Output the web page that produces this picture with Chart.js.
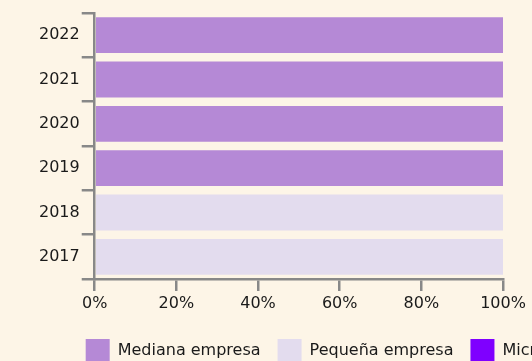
<!DOCTYPE html>
<html>
<head>
<meta charset="utf-8">
<script src="https://cdn.jsdelivr.net/npm/chart.js@4"></script>
<style>
  html, body { margin: 0; padding: 0; background: #fdf5e7; overflow: hidden; }
  #clip { width: 532px; height: 361px; overflow: hidden; position: relative; }
  #wrap { width: 664px; height: 373px; position: absolute; left: 0; top: 0; }
</style>
</head>
<body>
<div id="clip"><div id="wrap"><canvas id="chartCanvas"></canvas></div></div>
<script>
// datos
const years = ["2022", "2021", "2020", "2019", "2018", "2017"];
const mediana = [100, 100, 100, 100, 0, 0];
const pequena = [0, 0, 0, 0, 100, 100];
const micro = [0, 0, 0, 0, 0, 0];
const xTicks = [0, 20, 40, 60, 80, 100];

const axisGray = "#888888";
const font = { family: "DejaVu Sans", size: 16 };

document.addEventListener("DOMContentLoaded", () => {
  const ctx = document.getElementById("chartCanvas").getContext("2d");

  new Chart(ctx, {
    type: "bar",
    data: {
      labels: years,
      datasets: [
        { label: "Mediana empresa", data: mediana, backgroundColor: "#b589d6" },
        { label: "Pequeña empresa", data: pequena, backgroundColor: "#e3dcee" },
        { label: "Microempresa", data: micro, backgroundColor: "#7f00ff" }
      ]
    },
    options: {
      indexAxis: "y",
      responsive: true,
      maintainAspectRatio: false,
      animation: false,
      barPercentage: 0.81,
      categoryPercentage: 1,
      layout: { padding: { left: 37, top: 13, right: 0, bottom: 0 } },
      plugins: {
        tooltip: { enabled: false },
        legend: {
          position: "bottom",
          labels: {
            font,
            color: "#1a1a1a",
            boxWidth: 24,
            boxHeight: 24,
            padding: 17
          }
        }
      },
      scales: {
        x: {
          stacked: true,
          min: 0,
          max: 100,
          afterBuildTicks: s => { s.ticks = xTicks.map(v => ({ value: v })); },
          afterFit: s => { s.height = 43; },
          grid: { drawOnChartArea: false, tickLength: 12, color: axisGray, lineWidth: 2.5 },
          border: { color: axisGray, width: 2.5 },
          ticks: { font, color: "#1a1a1a", padding: 3, callback: v => v + "%" }
        },
        y: {
          stacked: true,
          grid: { drawOnChartArea: false, tickLength: 13, color: axisGray, lineWidth: 2.5 },
          border: { color: axisGray, width: 2.5 },
          ticks: { font, color: "#1a1a1a", padding: 2 }
        },
        // eje vacio a la derecha, solo para dejar sitio a la leyenda recortada
        yRight: {
          axis: "y",
          type: "linear",
          position: "right",
          grid: { display: false },
          border: { display: false },
          ticks: { display: false },
          afterFit: s => { s.width = 161; }
        }
      }
    }
  });
});
</script>
</body>
</html>
